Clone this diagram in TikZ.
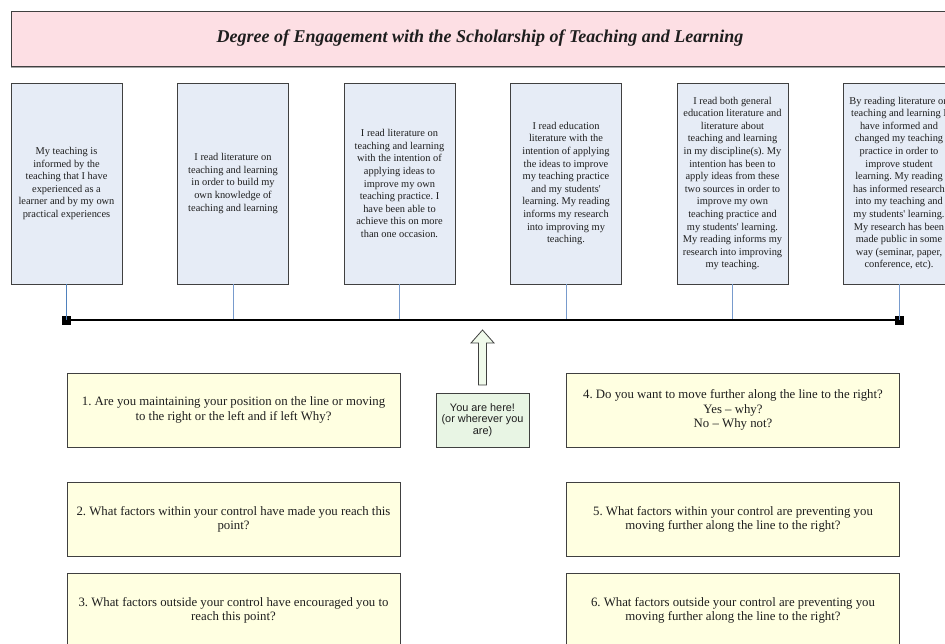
\documentclass[tikz,border=0pt]{standalone}
\usepackage{fontspec}
\setmainfont{Liberation Serif}
% plain family: keeps straight apostrophes as typed
\newfontfamily\serifface{Liberation Serif}
\newfontfamily\arialfont{Liberation Sans}
\usetikzlibrary{shadows}

\definecolor{titlepink}{RGB}{253,223,228}
\definecolor{stageblue}{RGB}{230,236,246}
\definecolor{qyellow}{RGB}{255,255,225}
\definecolor{heregreen}{RGB}{232,245,228}
\definecolor{arrowgreen}{RGB}{240,250,235}
\definecolor{edgegray}{RGB}{64,64,64}
\definecolor{linkblue}{RGB}{79,129,189}
\definecolor{linkpale}{RGB}{120,155,205}
\definecolor{inkgray}{RGB}{30,30,30}

\tikzset{
  x=1pt, y=-1pt,
  titlebox/.style={draw=edgegray, line width=0.9pt, fill=titlepink,
    minimum width=938pt, minimum height=55pt, inner sep=0pt,
    drop shadow={shadow xshift=0pt, shadow yshift=-1.6pt, fill=gray, opacity=0.7},
    font=\serifface\fontsize{18}{21}\selectfont\bfseries\itshape, text=inkgray},
  stagebox/.style={draw=edgegray, line width=0.9pt, fill=stageblue,
    minimum width=111pt, minimum height=201pt, inner sep=0pt,
    drop shadow={shadow xshift=0.8pt, shadow yshift=-0.8pt, fill=gray, opacity=0.5},
    align=center, font=\serifface\fontsize{10.4}{12.6}\selectfont, text=inkgray},
  qbox/.style={draw=edgegray, line width=0.9pt, fill=qyellow,
    minimum width=333pt, minimum height=74pt, inner sep=0pt,
    align=center, font=\serifface\fontsize{12.8}{14.2}\selectfont, text=inkgray},
  herebox/.style={draw=edgegray, line width=0.9pt, fill=heregreen,
    minimum width=93pt, minimum height=54pt, inner sep=0pt,
    align=center, font=\arialfont\fontsize{10.9}{11.7}\selectfont, text=inkgray},
  endmark/.style={fill=black, minimum size=9pt, inner sep=0pt},
  link/.style={draw=linkblue, line width=0.8pt},
  scale line/.style={draw=black, line width=2.8pt},
}

\begin{document}
\frenchspacing
\begin{tikzpicture}
\useasboundingbox (0,0) rectangle (945,643);
\clip (0,0) rectangle (945,643);

% heading banner
\node[titlebox] (title) at (480,38.5)
  {Degree of Engagement with the Scholarship of Teaching and Learning};

% the six stages of engagement
\node[stagebox] (s1) at (66.5,183.5)
  {My teaching is\\informed by the\\teaching that I have\\experienced as a\\learner and by my own\\practical experiences};
\node[stagebox] (s2) at (233,183.5)
  {I read literature on\\teaching and learning\\in order to build my\\own knowledge of\\teaching and learning};
\node[stagebox] (s3) at (399.5,183.5)
  {I read literature on\\teaching and learning\\with the intention of\\applying ideas to\\improve my own\\teaching practice. I\\have been able to\\achieve this on more\\than one occasion.};
\node[stagebox] (s4) at (566,183.5)
  {I read education\\literature with the\\intention of applying\\the ideas to improve\\my teaching practice\\and my students'\\learning. My reading\\informs my research\\into improving my\\teaching.};
\node[stagebox] (s5) at (732.5,183.5)
  {I read both general\\education literature and\\literature about\\teaching and learning\\in my discipline(s). My\\intention has been to\\apply ideas from these\\two sources in order to\\improve my own\\teaching practice and\\my students' learning.\\My reading informs my\\research into improving\\my teaching.};
\node[stagebox] (s6) at (899,183.5)
  {By reading literature on\\teaching and learning I\\have informed and\\changed my teaching\\practice in order to\\improve student\\learning. My reading\\has informed research\\into my teaching and\\my students' learning.\\My research has been\\made public in some\\way (seminar, paper,\\conference, etc).};

% the engagement line with its end marks
\node[endmark] (lstart) at (66.5,320) {};
\node[endmark] (lend) at (899,320) {};
\draw[link] (s1.south) -- (s1.south |- lstart.center);
\foreach \s in {s2,s3,s4,s5,s6}
  \draw[link, draw=linkpale] (\s.south) -- (\s.south |- lstart.center);
\draw[scale line] (lstart.center) -- (lend.center);

% position marker
\node[herebox] (here) at (482.5,420) {You are here!\\(or wherever you\\are)};
\coordinate (tip) at (482.5,330);
\draw[draw=edgegray, line width=0.8pt, fill=arrowgreen, line join=miter]
  (tip) -- ++(-11.5,13) -- ++(7.5,0) -- ++(0,42) -- ++(8,0) -- ++(0,-42)
  -- ++(7.5,0) -- cycle;

% reflection questions
\node[qbox] (q1) at (233.5,410)
  {1. Are you maintaining your position on the line or moving\\to the right or the left and if left Why?};
\node[qbox] (q2) at (233.5,519.5)
  {2. What factors within your control have made you reach this\\point?};
\node[qbox] (q3) at (233.5,610)
  {3. What factors outside your control have encouraged you to\\reach this point?};
\node[qbox] (q4) at (733,410)
  {4. Do you want to move further along the line to the right?\\Yes – why?\\No – Why not?};
\node[qbox] (q5) at (733,519.5)
  {5. What factors within your control are preventing you\\moving further along the line to the right?};
\node[qbox] (q6) at (733,610)
  {6. What factors outside your control are preventing you\\moving further along the line to the right?};
\end{tikzpicture}
\end{document}
